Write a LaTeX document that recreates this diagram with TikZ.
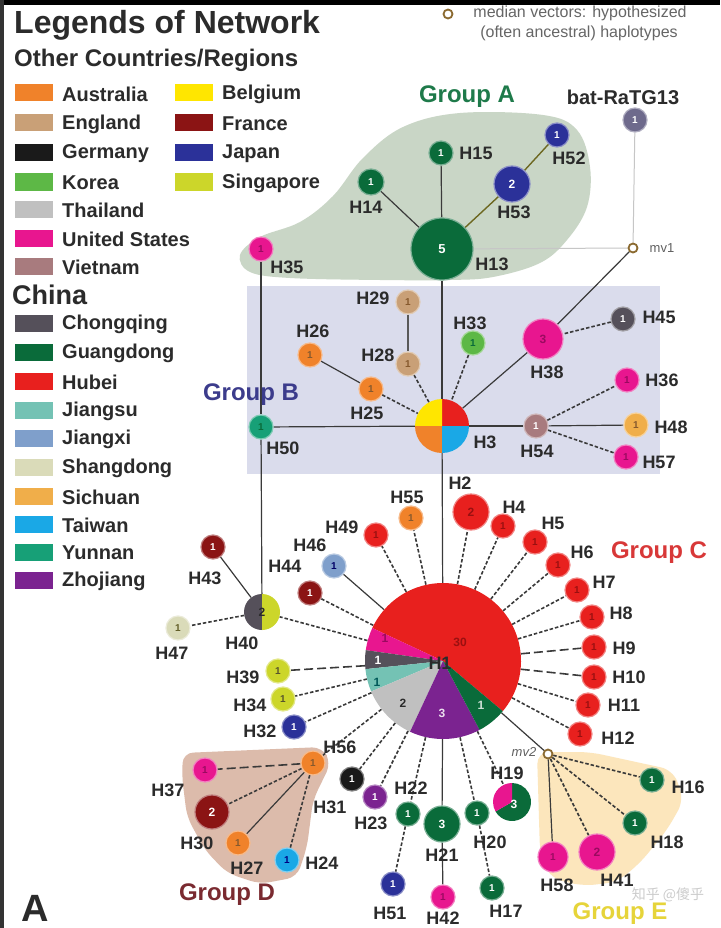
\documentclass[tikz,border=0pt]{standalone}
\usepackage{fontspec}
\setmainfont{Liberation Sans}
\newfontfamily\cjkfont{Noto Sans CJK SC}
\definecolor{cAus}{HTML}{F0822A}
\definecolor{cEn}{HTML}{C9A077}
\definecolor{cDe}{HTML}{1A1A1A}
\definecolor{cKo}{HTML}{5DB846}
\definecolor{cTh}{HTML}{C0C0C0}
\definecolor{cUS}{HTML}{E8168F}
\definecolor{cVn}{HTML}{A87B7E}
\definecolor{cBe}{HTML}{FFE600}
\definecolor{cFr}{HTML}{8B1414}
\definecolor{cJp}{HTML}{2B3199}
\definecolor{cSg}{HTML}{CCD62A}
\definecolor{cCq}{HTML}{55505A}
\definecolor{cGd}{HTML}{0A6B3A}
\definecolor{cHb}{HTML}{E8201E}
\definecolor{cJs}{HTML}{74C2B4}
\definecolor{cJx}{HTML}{7F9FCB}
\definecolor{cSd}{HTML}{DADBB9}
\definecolor{cSc}{HTML}{F0AE4A}
\definecolor{cTw}{HTML}{1AA8E6}
\definecolor{cYn}{HTML}{17A077}
\definecolor{cZj}{HTML}{7B2390}
\definecolor{cBat}{HTML}{6E6A8C}
\definecolor{gA}{HTML}{C9D6C6}
\definecolor{gB}{HTML}{DADCEC}
\definecolor{gD}{HTML}{DCBBAB}
\definecolor{gE}{HTML}{FCE6BC}
\definecolor{tA}{HTML}{1E7A4A}
\definecolor{tB}{HTML}{3C3C8C}
\definecolor{tC}{HTML}{D83838}
\definecolor{tD}{HTML}{7A2A30}
\definecolor{tE}{HTML}{E6D43A}
\definecolor{labc}{HTML}{2B2B2B}
\definecolor{linec}{HTML}{3A3A3A}
\definecolor{medc}{HTML}{8B6A30}
\definecolor{usd}{HTML}{9A0A60}
\definecolor{hbd}{HTML}{9A1010}
\newcommand\myfs[1]{\fontsize{#1}{#1}\selectfont}
\newcommand\pslice[5]{\fill[#5] (#1) -- ++(#3:#2pt) arc[start angle=#3, end angle=#4, radius=#2pt] -- cycle;}
\pgfdeclarelayer{bg}
\pgfdeclarelayer{edges}
\pgfsetlayers{bg,edges,main}
\begin{document}
\begin{tikzpicture}[x=1pt,y=-1pt,
  hap/.style={circle, inner sep=0pt, minimum size=24pt, fill=#1, draw=#1!55!white, line width=1.2pt, font=\myfs{10}\bfseries},
  pie/.style={circle, inner sep=0pt, minimum size=#1},
  lab/.style={font=\myfs{18}\bfseries, text=labc, inner sep=0pt},
  inl/.style={font=\myfs{12}\bfseries, inner sep=0pt},
  ln/.style={draw=linec, line width=1.2pt},
  lng/.style={draw=olive!70!black, line width=1.4pt},
  llt/.style={draw=gray!45, line width=1pt},
  dl/.style={draw=linec, line width=1.6pt, dash pattern=on 3.5pt off 2pt},
  ldl/.style={draw=linec, line width=1.6pt, dash pattern=on 9pt off 4pt},
  med/.style={circle, draw=medc, line width=1.8pt, fill=white, minimum size=9pt, inner sep=0pt},
  sw/.style={minimum width=38pt, minimum height=17pt, inner sep=0pt, fill=#1},
  leg/.style={font=\myfs{20}\bfseries, anchor=west, inner sep=0pt, text=labc},
  grp/.style={font=\myfs{24}\bfseries, inner sep=0pt}]
\useasboundingbox (0,0) rectangle (720,928);
\begin{pgfonlayer}{bg}
\fill[white] (0,0) rectangle (720,928);
\fill[black] (0,0) rectangle (720,5);
\fill[gray!40!black] (0,0) rectangle (4,928);
\fill[gA] plot[smooth cycle, tension=0.6] coordinates {(240,255) (260,237) (300,222) (333,196) (363,158) (403,127) (460,113) (543,115) (577,130) (590,167) (587,207) (567,240) (540,263) (493,277) (450,280) (380,280) (290,278) (250,272)};
\fill[gB] (247,286) rectangle (660,474);
\fill[gD, rounded corners=10pt] (183,753) -- (322,747) -- (331,763) -- (313,800) -- (307,847) -- (297,877) -- (260,884) -- (227,873) -- (205,850) -- (187,817) -- (182,777) -- cycle;
\fill[gE, rounded corners=12pt] (537,752) -- (590,752) -- (673,770) -- (684,800) -- (667,830) -- (640,863) -- (617,882) -- (583,886) -- (550,878) -- (540,853) -- cycle;
\end{pgfonlayer}

% ---------- legend ----------
\node[font=\myfs{32}\bfseries, anchor=west, inner sep=0pt, text=labc] (ttl) at (14,25) {Legends of Network};
\node[font=\myfs{24}\bfseries, anchor=west, inner sep=0pt, text=labc] (oth) at (14,60) {Other Countries/Regions};
\node[sw=cAus] (sAus) at (34,93) {}; \node[leg] (tAus) at (62,94) {Australia};
\node[sw=cEn] (sEn) at (34,123) {}; \node[leg] (tEn) at (62,124) {England};
\node[sw=cDe] (sDe) at (34,153) {}; \node[leg] (tDe) at (62,154) {Germany};
\node[sw=cKo] (sKo) at (34,182) {}; \node[leg] (tKo) at (62,183) {Korea};
\node[sw=cTh] (sTh) at (34,209) {}; \node[leg] (tTh) at (62,210) {Thailand};
\node[sw=cUS] (sUS) at (34,238) {}; \node[leg] (tUS) at (62,239) {United States};
\node[sw=cVn] (sVn) at (34,266) {}; \node[leg] (tVn) at (62,267) {Vietnam};
\node[sw=cBe] (sBe) at (194,93) {}; \node[leg] (tBe) at (222,94) {Belgium};
\node[sw=cFr] (sFr) at (194,123) {}; \node[leg] (tFr) at (222,124) {France};
\node[sw=cJp] (sJp) at (194,153) {}; \node[leg] (tJp) at (222,154) {Japan};
\node[sw=cSg] (sSg) at (194,182) {}; \node[leg] (tSg) at (222,183) {Singapore};
\node[font=\myfs{27}\bfseries, anchor=west, inner sep=0pt, text=labc] (chn) at (12,295) {China};
\node[sw=cCq] (sCq) at (34,323) {}; \node[leg] (tCq) at (62,324) {Chongqing};
\node[sw=cGd] (sGd) at (34,352) {}; \node[leg] (tGd) at (62,353) {Guangdong};
\node[sw=cHb] (sHb) at (34,381) {}; \node[leg] (tHb) at (62,382) {Hubei};
\node[sw=cJs] (sJs) at (34,410) {}; \node[leg] (tJs) at (62,411) {Jiangsu};
\node[sw=cJx] (sJx) at (34,438) {}; \node[leg] (tJx) at (62,439) {Jiangxi};
\node[sw=cSd] (sSd) at (34,467) {}; \node[leg] (tSd) at (62,468) {Shangdong};
\node[sw=cSc] (sSc) at (34,496) {}; \node[leg] (tSc) at (62,497) {Sichuan};
\node[sw=cTw] (sTw) at (34,524) {}; \node[leg] (tTw) at (62,525) {Taiwan};
\node[sw=cYn] (sYn) at (34,552) {}; \node[leg] (tYn) at (62,553) {Yunnan};
\node[sw=cZj] (sZj) at (34,580) {}; \node[leg] (tZj) at (62,581) {Zhojiang};
\node[med] (mvl) at (448,14) {};
\node[font=\myfs{16}, text=gray!80!black, inner sep=0pt] (mt1) at (580,13) {median vectors: hypothesized};
\node[font=\myfs{16}, text=gray!80!black, inner sep=0pt] (mt2) at (579,33) {(often ancestral) haplotypes};

% ---------- group labels ----------
\node[grp, text=tA] (gAl) at (467,97) {Group A};
\node[grp, text=tB] (gBl) at (251,395) {Group B};
\node[grp, text=tC] (gCl) at (659,553) {Group C};
\node[grp, text=tD] (gDl) at (227,895) {Group D};
\node[grp, text=tE] (gEl) at (620,914) {Group E};
\node[font=\myfs{20}\bfseries, text=labc, inner sep=0pt] (batl) at (623,97) {bat-RaTG13};
\node[font=\myfs{38}\bfseries, text=labc, inner sep=0pt] (pA) at (35,908) {A};
\node[font=\cjkfont\myfs{14}, text=gray!40, inner sep=0pt] (wm) at (668,895) {知乎 @傻乎};

% ---------- Group A nodes ----------
\node[hap=cGd, minimum size=62pt, text=white, font=\myfs{13}\bfseries] (H13) at (442,249) {5};
\node[hap=cGd, minimum size=26pt, text=white] (H14) at (371,182) {1};
\node[hap=cGd, text=white] (H15) at (441,153) {1};
\node[hap=cJp, minimum size=36pt, text=white, font=\myfs{12}\bfseries] (H53) at (512,184) {2};
\node[hap=cJp, text=white] (H52) at (557,135) {1};
\node[hap=cBat, text=white] (bat) at (635,120) {1};
\node[med] (mv1) at (633,248) {};
\node[hap=cUS, text=usd] (H35) at (261,249) {1};
\node[lab] (lH13) at (492,264) {H13};
\node[lab] (lH14) at (366,207) {H14};
\node[lab] (lH15) at (476,153) {H15};
\node[lab] (lH53) at (514,212) {H53};
\node[lab] (lH52) at (569,158) {H52};
\node[lab] (lH35) at (287,267) {H35};
\node[font=\myfs{13}, text=gray!75!black, inner sep=0pt] (lmv1) at (662,248) {mv1};

% ---------- Group B nodes ----------
\node[pie=54pt] (H3) at (442,426) {};
\pslice{H3.center}{27}{0}{90}{cHb}
\pslice{H3.center}{27}{90}{180}{cBe}
\pslice{H3.center}{27}{180}{270}{cAus}
\pslice{H3.center}{27}{270}{360}{cTw}
\node[hap=cYn, text=cGd] (H50) at (261,427) {1};
\node[hap=cEn, text=brown!70!black] (H29) at (408,302) {1};
\node[hap=cEn, text=brown!70!black] (H28) at (408,364) {1};
\node[hap=cAus, text=brown!70!black] (H26) at (310,355) {1};
\node[hap=cAus, text=brown!70!black] (H25) at (371,389) {1};
\node[hap=cKo, text=cGd] (H33) at (473,343) {1};
\node[hap=cUS, minimum size=40pt, text=usd, font=\myfs{12}\bfseries] (H38) at (543,339) {3};
\node[hap=cCq, text=white] (H45) at (623,319) {1};
\node[hap=cUS, text=usd] (H36) at (627,380) {1};
\node[hap=cVn, text=white] (H54) at (536,426) {1};
\node[hap=cSc, text=brown!70!black] (H48) at (636,425) {1};
\node[hap=cUS, text=usd] (H57) at (626,457) {1};
\node[lab] (lH3) at (485,442) {H3};
\node[lab] (lH50) at (283,448) {H50};
\node[lab] (lH29) at (373,298) {H29};
\node[lab] (lH28) at (378,355) {H28};
\node[lab] (lH26) at (313,331) {H26};
\node[lab] (lH25) at (367,413) {H25};
\node[lab] (lH33) at (470,323) {H33};
\node[lab] (lH38) at (547,372) {H38};
\node[lab] (lH45) at (659,317) {H45};
\node[lab] (lH36) at (662,380) {H36};
\node[lab] (lH54) at (537,451) {H54};
\node[lab] (lH48) at (671,427) {H48};
\node[lab] (lH57) at (659,462) {H57};

% ---------- Group C nodes ----------
\node[pie=156pt] (H1) at (443,661) {};
\pslice{H1.center}{78}{-40}{155}{cHb}
\pslice{H1.center}{78}{155}{172}{cUS}
\pslice{H1.center}{78}{172}{186}{cCq}
\pslice{H1.center}{78}{186}{203}{cJs}
\pslice{H1.center}{78}{203}{245}{cTh}
\pslice{H1.center}{78}{245}{298}{cZj}
\pslice{H1.center}{78}{298}{320}{cGd}
\node[inl, text=hbd] (n30) at (460,642) {30};
\node[inl, text=usd] (n1a) at (385,638) {1};
\node[inl, text=white] (n1b) at (378,660) {1};
\node[inl, text=teal!70!black] (n1c) at (377,682) {1};
\node[inl, text=labc] (n2) at (403,703) {2};
\node[inl, text=white!85!cZj] (n3) at (442,713) {3};
\node[inl, text=white!80!cGd] (n1d) at (481,705) {1};
\node[lab] (lH1) at (440,663) {H1};

\node[hap=cHb, minimum size=36pt, text=hbd, font=\myfs{12}\bfseries] (H2) at (471,512) {2};
\node[hap=cHb, text=hbd] (H4) at (503,526) {1};
\node[hap=cHb, text=hbd] (H5) at (535,542) {1};
\node[hap=cHb, text=hbd] (H6) at (558,565) {1};
\node[hap=cHb, text=hbd] (H7) at (577,590) {1};
\node[hap=cHb, text=hbd] (H8) at (592,617) {1};
\node[hap=cHb, text=hbd] (H9) at (594,647) {1};
\node[hap=cHb, text=hbd] (H10) at (594,677) {1};
\node[hap=cHb, text=hbd] (H11) at (588,705) {1};
\node[hap=cHb, text=hbd] (H12) at (580,734) {1};
\node[hap=cAus, text=brown!70!black] (H55) at (411,518) {1};
\node[hap=cHb, text=hbd] (H49) at (376,535) {1};
\node[hap=cJx, text=blue!40!black] (H46) at (334,566) {1};
\node[hap=cFr, text=white] (H44) at (310,593) {1};
\node[pie=36pt] (H40) at (262,612) {};
\pslice{H40.center}{18}{90}{270}{cCq}
\pslice{H40.center}{18}{-90}{90}{cSg}
\node[inl, text=labc] (n40) at (262,612) {2};
\node[hap=cFr, text=white] (H43) at (213,547) {1};
\node[hap=cSd, text=olive!60!black] (H47) at (178,628) {1};
\node[hap=cSg, text=olive!50!black] (H39) at (278,671) {1};
\node[hap=cSg, text=olive!50!black] (H34) at (283,699) {1};
\node[hap=cJp, text=white] (H32) at (294,727) {1};
\node[hap=cDe, text=white] (H31) at (352,779) {1};
\node[hap=cZj, text=white] (H23) at (375,797) {1};
\node[hap=cGd, text=white] (H22) at (408,814) {1};
\node[hap=cGd, minimum size=36pt, text=white, font=\myfs{12}\bfseries] (H21) at (442,824) {3};
\node[hap=cGd, text=white] (H20) at (477,813) {1};
\node[pie=38pt] (H19) at (512,802) {};
\pslice{H19.center}{19}{210}{450}{cGd}
\pslice{H19.center}{19}{90}{210}{cUS}
\node[inl, text=white] (n19) at (514,804) {3};
\node[hap=cJp, text=white] (H51) at (393,884) {1};
\node[hap=cUS, text=usd] (H42) at (443,897) {1};
\node[hap=cGd, text=white] (H17) at (492,888) {1};
\node[med] (mv2) at (548,754) {};

\node[lab] (lH2) at (460,483) {H2};
\node[lab] (lH4) at (514,507) {H4};
\node[lab] (lH5) at (553,523) {H5};
\node[lab] (lH6) at (582,552) {H6};
\node[lab] (lH7) at (604,582) {H7};
\node[lab] (lH8) at (621,613) {H8};
\node[lab] (lH9) at (624,648) {H9};
\node[lab] (lH10) at (629,677) {H10};
\node[lab] (lH11) at (624,705) {H11};
\node[lab] (lH12) at (618,738) {H12};
\node[lab] (lH55) at (407,497) {H55};
\node[lab] (lH49) at (342,527) {H49};
\node[lab] (lH46) at (310,545) {H46};
\node[lab] (lH44) at (285,566) {H44};
\node[lab] (lH43) at (205,578) {H43};
\node[lab] (lH40) at (242,643) {H40};
\node[lab] (lH47) at (172,653) {H47};
\node[lab] (lH39) at (243,677) {H39};
\node[lab] (lH34) at (250,705) {H34};
\node[lab] (lH32) at (260,731) {H32};
\node[lab] (lH56) at (340,747) {H56};
\node[lab] (lH31) at (330,807) {H31};
\node[lab] (lH23) at (371,823) {H23};
\node[lab] (lH22) at (411,788) {H22};
\node[lab] (lH21) at (442,855) {H21};
\node[lab] (lH20) at (490,842) {H20};
\node[lab] (lH19) at (507,773) {H19};
\node[lab] (lH51) at (390,913) {H51};
\node[lab] (lH42) at (443,918) {H42};
\node[lab] (lH17) at (506,911) {H17};
\node[font=\myfs{13}\itshape, text=gray!75!black, inner sep=0pt] (lmv2) at (524,752) {mv2};

% ---------- Group D nodes ----------
\node[hap=cAus, text=brown!70!black] (H56) at (313,763) {1};
\node[hap=cUS, text=usd] (H37) at (205,770) {1};
\node[hap=cFr, minimum size=34pt, text=white, font=\myfs{12}\bfseries] (H30) at (212,812) {2};
\node[hap=cAus, text=brown!70!black] (H27) at (238,843) {1};
\node[hap=cTw, text=blue!50!black] (H24) at (287,860) {1};
\node[lab] (lH37) at (168,790) {H37};
\node[lab] (lH30) at (197,843) {H30};
\node[lab] (lH27) at (247,868) {H27};
\node[lab] (lH24) at (322,863) {H24};

% ---------- Group E nodes ----------
\node[hap=cGd, text=white] (H16) at (652,780) {1};
\node[hap=cGd, text=white] (H18) at (635,823) {1};
\node[hap=cUS, minimum size=30pt, text=usd] (H58) at (553,857) {1};
\node[hap=cUS, minimum size=36pt, text=usd, font=\myfs{12}\bfseries] (H41) at (597,852) {2};
\node[lab] (lH16) at (688,787) {H16};
\node[lab] (lH18) at (667,842) {H18};
\node[lab] (lH58) at (557,885) {H58};
\node[lab] (lH41) at (617,880) {H41};

% ---------- connectors ----------
\begin{pgfonlayer}{edges}
\draw[llt] (bat) -- (mv1);
\draw[llt] (H13) -- (mv1);
\draw[ln] (H14) -- (H13);
\draw[ln] (H15) -- (H13);
\draw[lng] (H13) -- (H53);
\draw[lng] (H53) -- (H52);
\draw[ln] (H13) -- (H3.center);
\draw[ln] (H35) -- (H50);
\draw[ln] (H50) -- (H40);
\draw[ln] (H50) -- (H3.center);
\draw[ln] (H3.center) -- (H54);
\draw[ln] (H54) -- (H48);
\draw[draw=gray!70!black, line width=1.2pt] (H29) -- (H28);
\draw[dl] (H28) -- (H3);
\draw[ln] (H26) -- (H25);
\draw[dl] (H25) -- (H3);
\draw[dl] (H33) -- (H3);
\draw[ln] (H3) -- (H38);
\draw[ln] (H38) -- (mv1);
\draw[dl] (H45) -- (H38);
\draw[dl] (H54) -- (H36);
\draw[dl] (H54) -- (H57);
\draw[ln] (H3.center) -- (H1);
\draw[ln] (H1) -- (H21);
\draw[ln] (H21) -- (H42);
\draw[dl] (H1) -- (H2);
\draw[dl] (H1) -- (H4);
\draw[dl] (H1) -- (H5);
\draw[dl] (H1) -- (H6);
\draw[dl] (H1) -- (H7);
\draw[dl] (H1) -- (H8);
\draw[ldl] (H1) -- (H9);
\draw[ldl] (H1) -- (H10);
\draw[dl] (H1) -- (H11);
\draw[dl] (H1) -- (H12);
\draw[ln] (H1) -- (mv2);
\draw[dl] (H1) -- (H55);
\draw[dl] (H1) -- (H49);
\draw[ln] (H1) -- (H46);
\draw[dl] (H1) -- (H44);
\draw[dl] (H1) -- (H40);
\draw[ln] (H40) -- (H43);
\draw[dl] (H40) -- (H47);
\draw[ldl] (H1) -- (H39);
\draw[dl] (H1) -- (H34);
\draw[dl] (H1) -- (H32);
\draw[dl] (H1) -- (H56);
\draw[dl] (H1) -- (H31);
\draw[dl] (H1) -- (H23);
\draw[dl] (H1) -- (H22);
\draw[dl] (H1) -- (H20);
\draw[dl] (H1) -- (H19);
\draw[dl] (H22) -- (H51);
\draw[dl] (H20) -- (H17);
\draw[ldl] (H56) -- (H37);
\draw[dl] (H56) -- (H30);
\draw[ln] (H56) -- (H27);
\draw[dl] (H56) -- (H24);
\draw[dl] (mv2) -- (H16);
\draw[dl] (mv2) -- (H18);
\draw[ln] (mv2) -- (H58);
\draw[dl] (mv2) -- (H41);
\end{pgfonlayer}
\end{tikzpicture}
\end{document}
